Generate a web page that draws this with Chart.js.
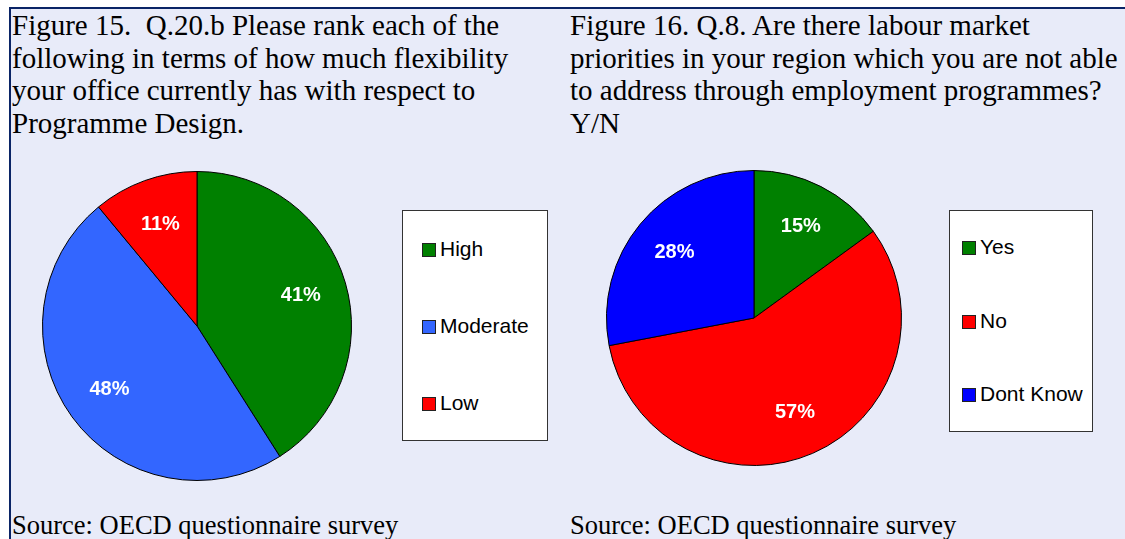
<!DOCTYPE html>
<html>
<head>
<meta charset="utf-8">
<script src="https://cdn.jsdelivr.net/npm/chart.js@4.4.1/dist/chart.umd.min.js"></script>
<style>
  html, body { margin: 0; padding: 0; background: #fff; }
  #page { position: relative; width: 1125px; height: 539px; overflow: hidden; background: #fff; }
  .panel { position: absolute; top: 7px; bottom: 0; background: #E8EBF9; border-top: 2px solid #0A2466; }
  #p1 { left: 9px; width: 557px; border-left: 2px solid #0A2466; border-right: 2px solid #0A2466; }
  #p2 { left: 568px; width: 570px; }
  .title { position: absolute; left: 1px; top: 0px; font-family: "Liberation Serif", "Times New Roman", serif; font-size: 29px; line-height: 32.7px; color: #000; white-space: nowrap; }
  #p2 .title, #p2 .source { left: 2px; }
  .source { position: absolute; left: 1px; top: 501px; font-family: "Liberation Serif", "Times New Roman", serif; font-size: 26.5px; color: #000; white-space: nowrap; }
  canvas.pie { position: absolute; }
  .legend { position: absolute; background: #fff; border: 1px solid #333; box-sizing: border-box; font-family: "Liberation Sans", Arial, sans-serif; font-size: 21px; }
  .legend .item { position: absolute; left: 0; white-space: nowrap; }
  .legend .sw { display: inline-block; width: 12px; height: 12px; border: 1px solid #222; vertical-align: -1px; margin-right: 4px; }
</style>
</head>
<body>
<div id="page">
  <div class="panel" id="p1">
    <div class="title">Figure 15.&nbsp; Q.20.b Please rank each of the<br>following in terms of how much flexibility<br>your office currently has with respect to<br>Programme Design.</div>
    <div class="source">Source: OECD questionnaire survey</div>
  </div>
  <div class="panel" id="p2">
    <div class="title">Figure 16. Q.8. Are there labour market<br>priorities in your region which you are not able<br>to address through employment programmes?<br>Y/N</div>
    <div class="source">Source: OECD questionnaire survey</div>
  </div>
  <canvas class="pie" id="pie1" style="left:41px;top:171px;width:312px;height:310px"></canvas>
  <canvas class="pie" id="pie2" style="left:604px;top:170px;width:300px;height:296px"></canvas>
  <div class="legend" id="leg1" style="left:402px;top:210px;width:146px;height:231px"></div>
  <div class="legend" id="leg2" style="left:949px;top:210px;width:144px;height:222px"></div>
</div>
<script>
const flexLabels = ['High', 'Moderate', 'Low'];
const flexValues = [41, 48, 11];
const flexColors = ['#008000', '#3366FF', '#FF0000'];

const prioLabels = ['Yes', 'No', 'Dont Know'];
const prioValues = [15, 57, 28];
const prioColors = ['#008000', '#FF0000', '#0000FF'];

// percentage labels drawn inside each slice
const sliceLabels = {
  id: 'sliceLabels',
  afterDatasetsDraw(chart) {
    const ctx = chart.ctx;
    const meta = chart.getDatasetMeta(0);
    const data = chart.data.datasets[0].data;
    ctx.save();
    ctx.fillStyle = '#fff';
    ctx.font = 'bold 20px "Liberation Sans", Arial, sans-serif';
    ctx.textAlign = 'center';
    ctx.textBaseline = 'middle';
    meta.data.forEach((arc, i) => {
      const mid = (arc.startAngle + arc.endAngle) / 2;
      const r = arc.outerRadius * 0.7;
      ctx.fillText(data[i] + '%', arc.x + Math.cos(mid) * r, arc.y + Math.sin(mid) * r);
    });
    ctx.restore();
  }
};

function makePie(id, labels, values, colors) {
  new Chart(document.getElementById(id), {
    type: 'pie',
    data: {
      labels: labels,
      datasets: [{
        data: values,
        backgroundColor: colors,
        borderColor: '#000',
        borderWidth: 1
      }]
    },
    options: {
      responsive: false,
      animation: false,
      layout: { padding: 0 },
      plugins: { legend: { display: false }, tooltip: { enabled: false } }
    },
    plugins: [sliceLabels]
  });
}

function makeLegend(id, labels, colors, tops, left) {
  const box = document.getElementById(id);
  labels.forEach((lab, i) => {
    const item = document.createElement('div');
    item.className = 'item';
    item.style.top = tops[i] + 'px';
    item.style.left = left + 'px';
    item.innerHTML = '<span class="sw" style="background:' + colors[i] + '"></span>' + lab;
    box.appendChild(item);
  });
}

// size canvases to their css box
['pie1', 'pie2'].forEach(id => {
  const c = document.getElementById(id);
  c.width = parseInt(c.style.width);
  c.height = parseInt(c.style.height);
});

makePie('pie1', flexLabels, flexValues, flexColors);
makePie('pie2', prioLabels, prioValues, prioColors);
makeLegend('leg1', flexLabels, flexColors, [26, 103, 180], 19);
makeLegend('leg2', prioLabels, prioColors, [24, 98, 171], 12);
</script>
</body>
</html>
